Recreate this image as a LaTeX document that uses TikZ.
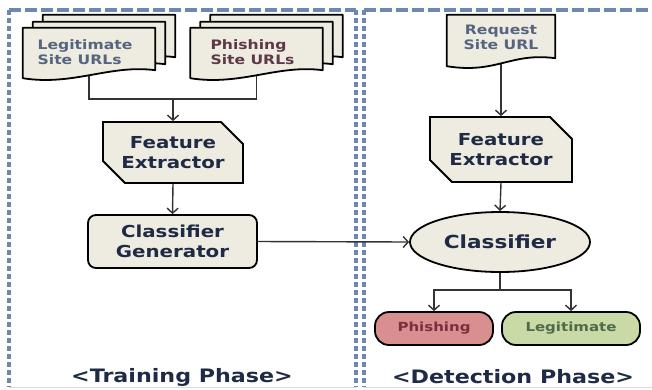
\documentclass[tikz,border=0pt]{standalone}
\usepackage{fontspec}
\setmainfont{DejaVu Sans}[FakeStretch=1.2]
\usetikzlibrary{arrows.meta,shapes.geometric,shapes.misc}

\definecolor{frameblue}{HTML}{6E87AF}
\definecolor{boxbeige}{HTML}{EEEBE1}
\definecolor{labelnavy}{HTML}{1F2A44}
\definecolor{legitgray}{HTML}{55657F}
\definecolor{phishplum}{HTML}{5E3848}
\definecolor{phishred}{HTML}{D98F8F}
\definecolor{legitgreen}{HTML}{C9DAA6}
\definecolor{phishtext}{HTML}{7A2E40}
\definecolor{greentext}{HTML}{4E6A4A}

% outline of one page of a document stack
\newcommand{\pageoutline}[1]{%
  \draw[pageline] (#1.north west) -- (#1.north east) -- (#1.south east)
    .. controls ([xshift=-45pt,yshift=6pt]#1.south east) and ([xshift=50pt,yshift=-16pt]#1.south west)
    .. ([yshift=-8pt]#1.south west) -- cycle;}

\begin{document}
\begin{tikzpicture}[x=1pt,y=1pt,
    hframe/.style={line width=3.2pt, frameblue, dash pattern=on 12pt off 4pt},
    vframe/.style={line width=3.6pt, frameblue, dash pattern=on 5pt off 3pt},
    pageline/.style={line width=1.8pt, fill=boxbeige, line join=round},
    pageslot/.style={minimum width=132pt, minimum height=42pt, inner sep=0pt},
    pagetext/.style={font=\bfseries\fontsize{13}{15}\selectfont, align=left},
    stepcard/.style={chamfered rectangle, chamfered rectangle corners={north east,south west},
      chamfered rectangle sep=11pt, draw, line width=1.8pt, fill=boxbeige, text=labelnavy,
      font=\bfseries\fontsize{16.5}{20}\selectfont, align=center, inner sep=0pt},
    stepbox/.style={rectangle, rounded corners=8pt, draw, line width=1.8pt, fill=boxbeige,
      text=labelnavy, font=\bfseries\fontsize{16.5}{20}\selectfont, align=center},
    resultbox/.style={rectangle, rounded corners=14pt, draw, line width=1.8pt,
      minimum height=33pt, font=\bfseries\fontsize{12.5}{15}\selectfont},
    link/.style={line width=1.4pt, black!80},
    arr/.style={link, -{Straight Barb[length=5pt,width=11pt]}},
    phasetitle/.style={text=labelnavy, font=\bfseries\fontsize{18.5}{20}\selectfont}]

    \useasboundingbox (0,0) rectangle (652,-389);

    % Phase frames
    \draw[hframe] (9,-10) -- (356,-10);
    \draw[vframe] (9,-10) -- (9,-387);
    \draw[vframe] (356,-10) -- (356,-387);
    \draw[frameblue!30, line width=1pt] (9,-387) -- (356,-387);
    \draw[hframe] (364,-10) -- (652,-10);
    \draw[vframe] (364,-10) -- (364,-387);
    \draw[frameblue!30, line width=1pt] (364,-387) -- (652,-387);

    % Training phase: input document stacks
    \node[pageslot] (legit) at (89,-49) {};
    \node[pageslot] (legitB) at (99,-43) {};
    \node[pageslot] (legitC) at (109,-36) {};
    \node[pageslot] (phish) at (256.5,-49) {};
    \node[pageslot] (phishB) at (266.5,-43) {};
    \node[pageslot] (phishC) at (276.5,-36) {};
    \coordinate (trainjoin) at (173,-99);

    % Training phase: steps
    \node[stepcard, minimum width=140pt, minimum height=61pt] (extractA) at (173,-152.5) {Feature\\Extractor};
    \node[stepbox, minimum width=169pt, minimum height=53pt] (generator) at (172.5,-241.5) {Classifier\\Generator};

    % Detection phase
    \node[pageslot, minimum width=108pt, minimum height=43pt] (request) at (501,-36.5) {};
    \node[stepcard, minimum width=142pt, minimum height=65pt] (extractB) at (501,-149.5) {Feature\\Extractor};
    \node[ellipse, draw, line width=1.8pt, fill=boxbeige, minimum width=180pt, minimum height=60pt,
      text=labelnavy, font=\bfseries\fontsize{18}{20}\selectfont] (classifier) at (500,-242) {Classifier};
    \coordinate (detectjoin) at (500,-290);
    \node[resultbox, fill=phishred, text=phishtext, minimum width=118pt] (isphish) at (434,-328.5) {Phishing};
    \node[resultbox, fill=legitgreen, text=greentext, minimum width=138pt] (islegit) at (571,-328.5) {Legitimate};

    % Connectors
    \draw[link] (legit.south) |- (trainjoin) -| (phish.south);
    \draw[arr] (trainjoin) -- (extractA.north);
    \draw[arr] (extractA.south) -- (generator.north);
    \draw[arr] (generator.east) -- (classifier.west);
    \draw[arr] (request.south) -- (extractB.north);
    \draw[arr] (extractB.south) -- (classifier.north);
    \draw[link] (classifier.south) -- (detectjoin);
    \draw[arr] (detectjoin) -| (isphish.north);
    \draw[arr] (detectjoin) -| (islegit.north);

    % Document pages, back to front
    \pageoutline{legitC}
    \pageoutline{legitB}
    \pageoutline{legit}
    \pageoutline{phishC}
    \pageoutline{phishB}
    \pageoutline{phish}
    \pageoutline{request}
    \node[pagetext, text=legitgray] (legitlabel) at ([xshift=-4pt,yshift=-3pt]legit.center) {Legitimate\\Site URLs};
    \node[pagetext, text=phishplum] (phishlabel) at ([xshift=-4pt,yshift=-3pt]phish.center) {Phishing\\Site URLs};
    \node[pagetext, text=legitgray, align=center] (requestlabel) at ([yshift=-1pt]request.center) {Request\\Site URL};

    % Phase titles
    \node[phasetitle] (trainphase) at (182,-377) {<Training Phase>};
    \node[phasetitle] (detectphase) at (513,-377) {<Detection Phase>};
\end{tikzpicture}
\end{document}
